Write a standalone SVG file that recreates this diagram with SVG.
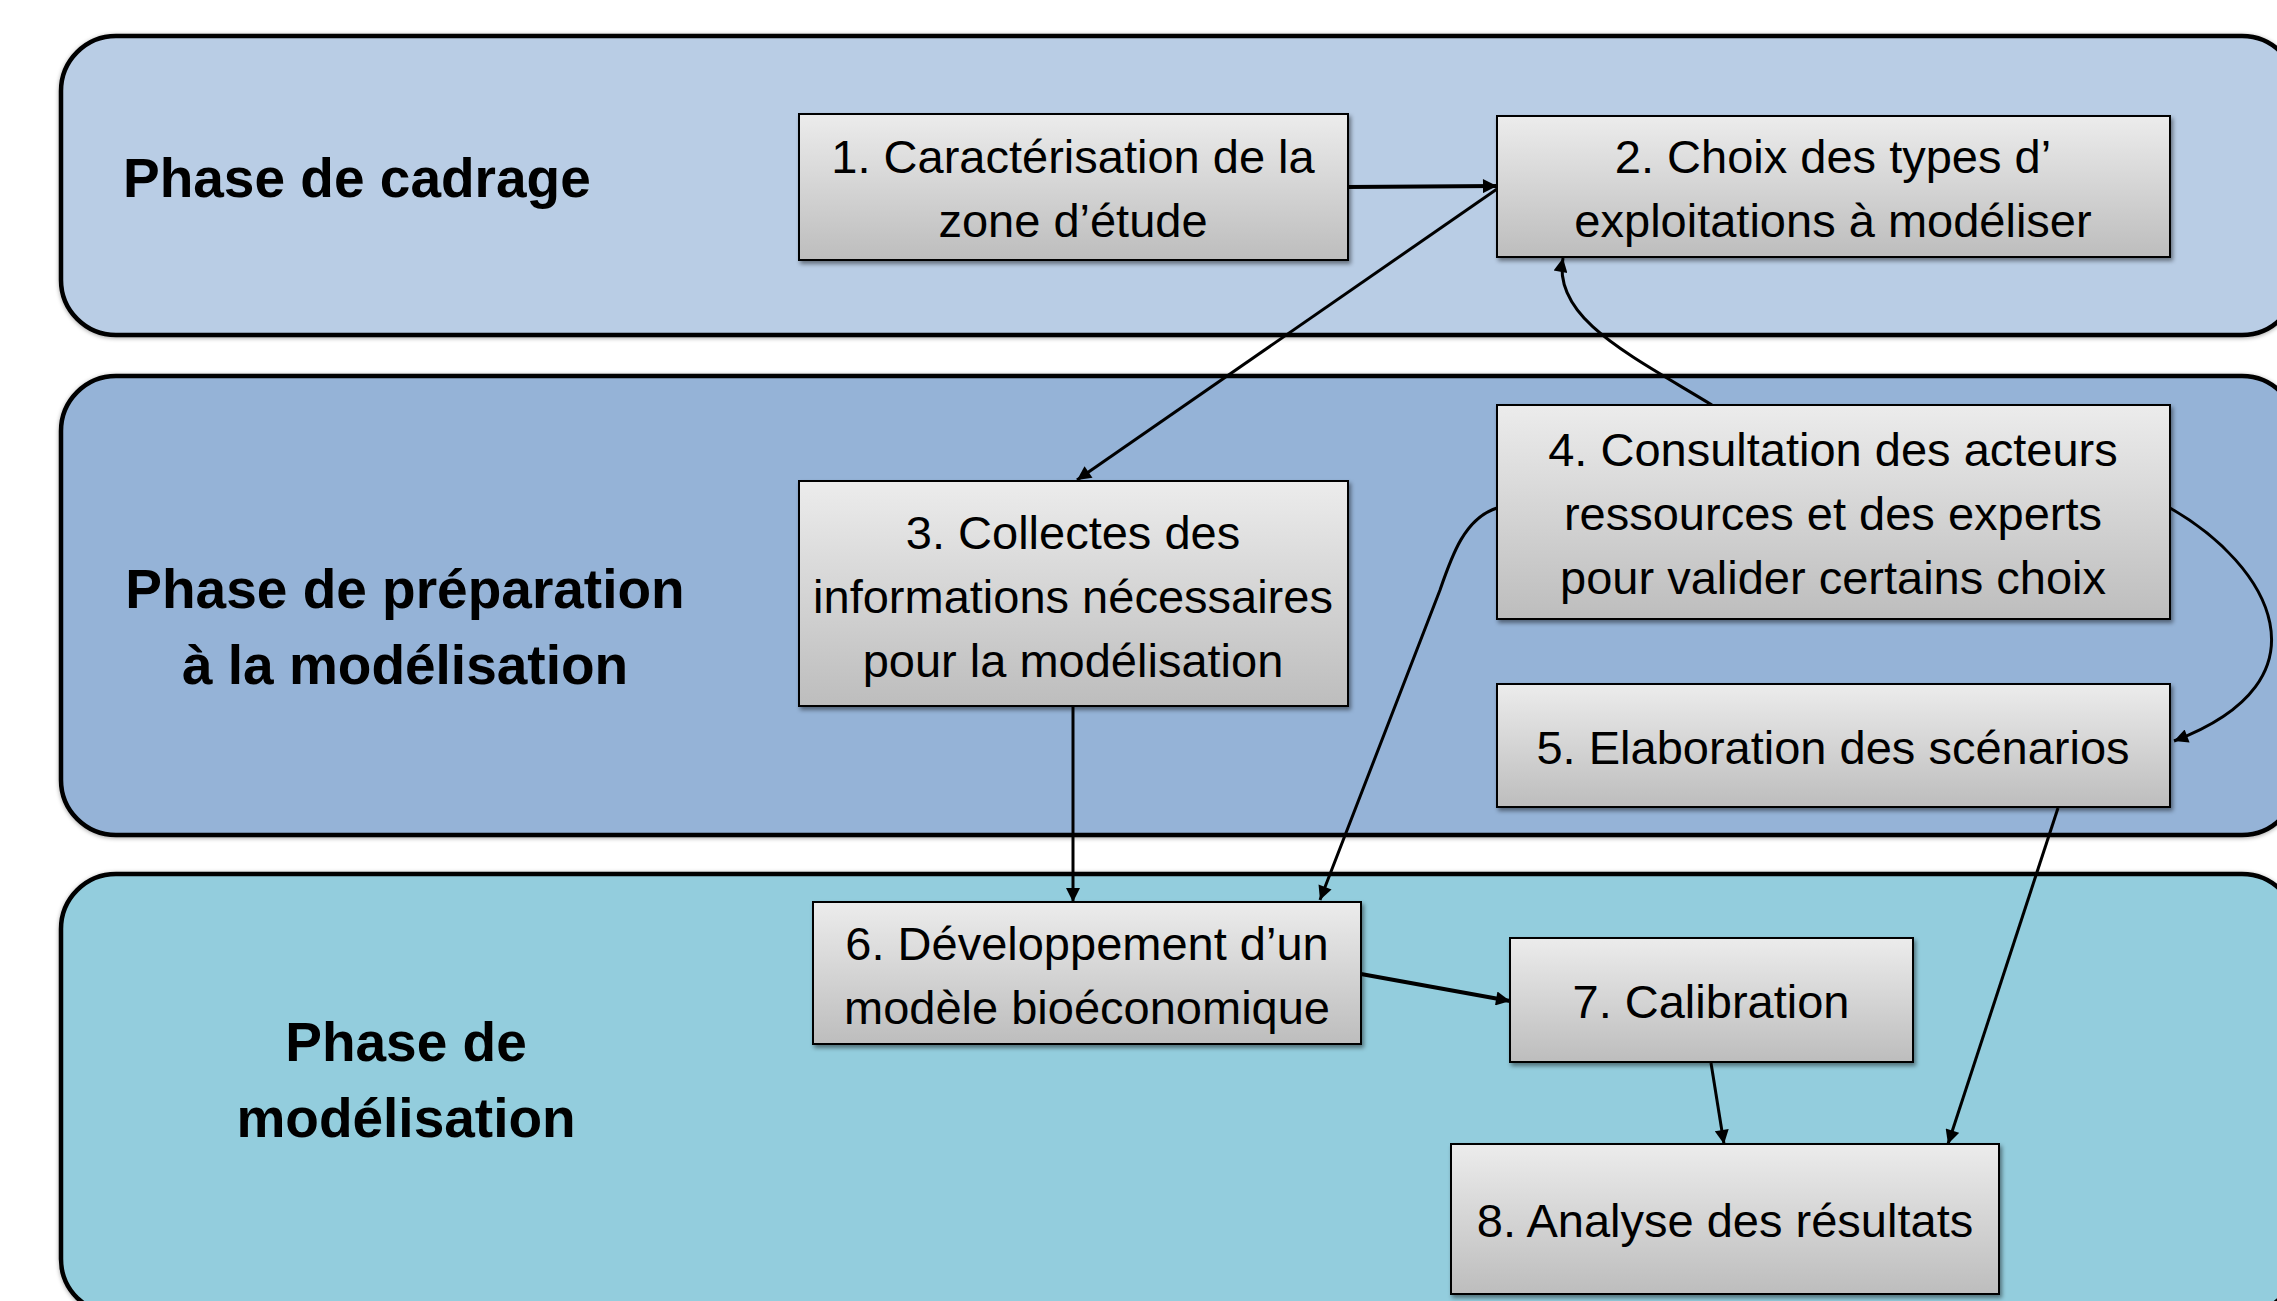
<svg xmlns="http://www.w3.org/2000/svg" width="2277" height="1301" viewBox="0 0 2277 1301">
<defs>
<linearGradient id="nodeGrad" x1="0" y1="0" x2="0" y2="1">
<stop offset="0" stop-color="#ECECEC"/>
<stop offset="1" stop-color="#BDBDBD"/>
</linearGradient>
<filter id="shadow" x="-5%" y="-5%" width="110%" height="115%">
<feDropShadow dx="2" dy="3" stdDeviation="2" flood-color="#000" flood-opacity="0.45"/>
</filter>
<filter id="pshadow" x="-2%" y="-5%" width="104%" height="110%">
<feDropShadow dx="0" dy="1" stdDeviation="2" flood-color="#000" flood-opacity="0.35"/>
</filter>
<marker id="arrow" viewBox="0 0 10 10" refX="10" refY="5" markerUnits="userSpaceOnUse" markerWidth="18" markerHeight="14" orient="auto">
<path d="M0,0 L10,5 L0,10 z" fill="#000"/>
</marker>
</defs>
<style>
.phase{stroke:#000;stroke-width:4.5;filter:url(#pshadow)}
.title{font-family:"Liberation Sans",Arial,sans-serif;font-weight:bold;font-size:55px;fill:#000}
.node rect{fill:url(#nodeGrad);stroke:#000;stroke-width:2;filter:url(#shadow)}
.node text{font-family:"Liberation Sans",Arial,sans-serif;font-size:47px;fill:#000;text-anchor:middle}
.conn{fill:none;stroke:#000;stroke-width:3;marker-end:url(#arrow)}
.thick{stroke-width:4.2}
</style>
<g id="phases">
<g id="phase-cadrage">
<rect class="phase" x="61" y="36" width="2236" height="299" rx="55" ry="55" fill="#B9CDE5"/>
<text class="title" x="123" y="197">Phase de cadrage</text>
</g>
<g id="phase-preparation">
<rect class="phase" x="61" y="376" width="2236" height="459" rx="55" ry="55" fill="#95B3D7"/>
<text class="title" x="405" y="608" text-anchor="middle">Phase de préparation</text>
<text class="title" x="405" y="684" text-anchor="middle">à la modélisation</text>
</g>
<g id="phase-modelisation">
<rect class="phase" x="61" y="874" width="2236" height="440" rx="55" ry="55" fill="#93CDDD"/>
<text class="title" x="406" y="1061" text-anchor="middle">Phase de</text>
<text class="title" x="406" y="1137" text-anchor="middle">modélisation</text>
</g>
</g>
<g id="connectors">
<path class="conn thick" d="M1348 187 L1497 186"/>
<path class="conn" d="M1497 189 L1077 480"/>
<path class="conn" d="M1712 405 C1630 355 1552 318 1563 258"/>
<path class="conn" d="M1497 508 C1465 518 1452 555 1440 590 L1320 900"/>
<path class="conn" d="M2170 508 C2270 565 2335 680 2174 741"/>
<path class="conn" d="M1073 707 L1073 902"/>
<path class="conn thick" d="M1361 974 L1510 1001"/>
<path class="conn" d="M1711 1063 L1724 1144"/>
<path class="conn" d="M2058 808 L1948 1144"/>
</g>
<g id="node1" class="node">
<rect x="799" y="114" width="549" height="146"/>
<text x="1073" y="173">1. Caractérisation de la</text>
<text x="1073" y="237">zone d’étude</text>
</g>
<g id="node2" class="node">
<rect x="1497" y="116" width="673" height="141"/>
<text x="1833" y="173">2. Choix des types d’</text>
<text x="1833" y="237">exploitations à modéliser</text>
</g>
<g id="node3" class="node">
<rect x="799" y="481" width="549" height="225"/>
<text x="1073" y="549">3. Collectes des</text>
<text x="1073" y="613">informations nécessaires</text>
<text x="1073" y="677">pour la modélisation</text>
</g>
<g id="node4" class="node">
<rect x="1497" y="405" width="673" height="214"/>
<text x="1833" y="466">4. Consultation des acteurs</text>
<text x="1833" y="530">ressources et des experts</text>
<text x="1833" y="594">pour valider certains choix</text>
</g>
<g id="node5" class="node">
<rect x="1497" y="684" width="673" height="123"/>
<text x="1833" y="764">5. Elaboration des scénarios</text>
</g>
<g id="node6" class="node">
<rect x="813" y="902" width="548" height="142"/>
<text x="1087" y="960">6. Développement d’un</text>
<text x="1087" y="1024">modèle bioéconomique</text>
</g>
<g id="node7" class="node">
<rect x="1510" y="938" width="403" height="124"/>
<text x="1711" y="1018">7. Calibration</text>
</g>
<g id="node8" class="node">
<rect x="1451" y="1144" width="548" height="150"/>
<text x="1725" y="1237">8. Analyse des résultats</text>
</g>
</svg>
